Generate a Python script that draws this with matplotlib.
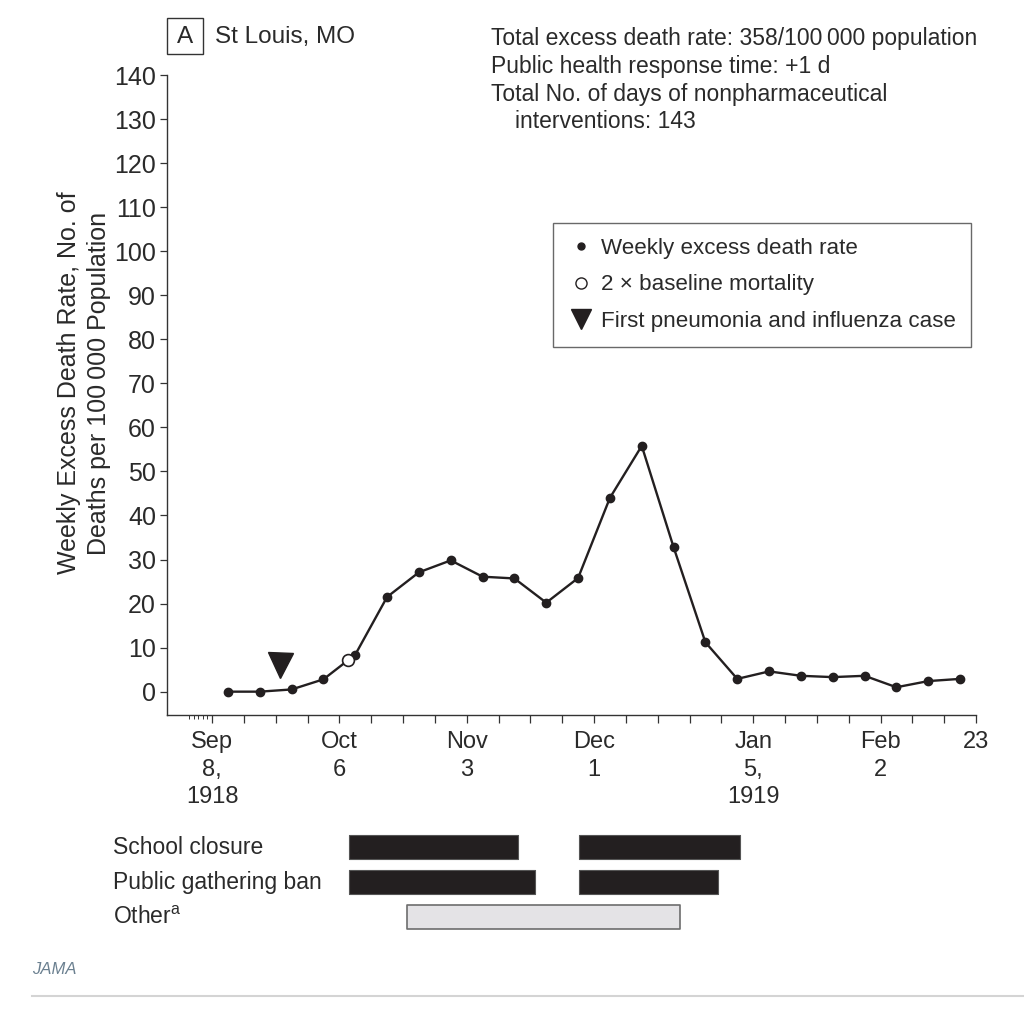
import matplotlib
matplotlib.use('Agg')
import matplotlib.pyplot as plt
from matplotlib.lines import Line2D
from matplotlib.patches import Rectangle
import matplotlib.transforms as mtransforms

plt.rcParams['font.family'] = ['Liberation Sans', 'DejaVu Sans']
plt.rcParams['mathtext.fontset'] = 'custom'
plt.rcParams['mathtext.rm'] = 'Liberation Sans'
plt.rcParams['mathtext.it'] = 'Liberation Sans:italic'

TXT = '#2a2a2a'
INK = '#231f20'

# ---------------- data (x in days since Sep 8, 1918) ----------------
week_days = [3.5, 10.5, 17.5, 24.5, 31.5, 38.5, 45.5, 52.5, 59.5, 66.5, 73.5, 80.5,
             87.5, 94.5, 101.5, 108.5, 115.5, 122.5, 129.5, 136.5, 143.5, 150.5, 157.5, 164.5]
excess_rate = [0.0, 0.0, 0.5, 2.8, 8.4, 21.5, 27.1, 29.8, 26.1, 25.7, 20.2, 25.8,
               44.0, 55.8, 32.8, 11.2, 2.9, 4.6, 3.6, 3.3, 3.6, 1.0, 2.4, 2.9]
baseline_day = [30.0]
baseline_value = [7.2]
first_case_day = [15.0]
first_case_value = [6.0]

week_tick_days = [0, 7, 14, 21, 28, 35, 42, 49, 56, 63, 70, 77, 84, 91, 98, 105,
                  112, 119, 126, 133, 140, 147, 154, 161, 168]
label_days = [0, 28, 56, 84, 119, 147, 168]
label_texts = ['Sep\n8,\n1918', 'Oct\n6', 'Nov\n3', 'Dec\n1', 'Jan\n5,\n1919', 'Feb\n2', '23']
minor_days = [-5, -4, -3, -2, -1]
y_ticks = [0, 10, 20, 30, 40, 50, 60, 70, 80, 90, 100, 110, 120, 130, 140]

intervention_names = ['School closure', 'Public gathering ban', 'Other$^{\\mathrm{a}}$']
school_closure = [(30.1, 67.3), (80.8, 116.1)]
gathering_ban = [(30.1, 71.0), (80.8, 111.2)]
other_npi = [(42.9, 102.9)]

legend_labels = ['Weekly excess death rate', '2 \u00d7 baseline mortality',
                 'First pneumonia and influenza case']
info_lines = ['Total excess death rate: 358/100\u2009000 population',
              'Public health response time: +1 d',
              'Total No. of days of nonpharmaceutical',
              'interventions: 143']

# ---------------- figure ----------------
W, H = 1024, 1009
fig = plt.figure(figsize=(W / 100, H / 100), dpi=100)
fig.patch.set_facecolor('white')


def fx(px):
    return px / W


def fy(py):
    return 1 - py / H


ax = fig.add_axes([fx(167), fy(715), fx(976) - fx(167), fy(75) - fy(715)])
ax.set_xlim(-9.9, 168)
ax.set_ylim(-5.3, 140)
for s in ['top', 'right']:
    ax.spines[s].set_visible(False)
for s in ['left', 'bottom']:
    ax.spines[s].set_color('#333333')
    ax.spines[s].set_linewidth(1.0)

ax.set_xticks(week_tick_days)
ax.set_xticklabels([label_texts[label_days.index(d)] if d in label_days else ''
                    for d in week_tick_days])
ax.set_xticks(minor_days, minor=True)
ax.set_yticks(y_ticks)
ax.tick_params(axis='x', which='major', length=5.5, width=0.9, color='#333333',
               pad=6, labelsize=17, labelcolor=TXT)
ax.tick_params(axis='x', which='minor', length=3, width=0.7, color='#333333')
ax.tick_params(axis='y', length=5, width=0.9, color='#333333', pad=3,
               labelsize=18, labelcolor=TXT)
for lbl in ax.get_xticklabels():
    lbl.set_linespacing(1.33)

ax.plot(week_days, excess_rate, '-o', color=INK, lw=1.7, ms=6, zorder=3, clip_on=False)
ax.plot(baseline_day, baseline_value, 'o', mfc='white', mec=INK, ms=8.5, mew=1.2, zorder=4)
ax.plot(first_case_day, first_case_value, 'v', color=INK, ms=18, zorder=4)

handles = [Line2D([], [], ls='none', marker='o', color=INK, ms=5),
           Line2D([], [], ls='none', marker='o', mfc='white', mec=INK, mew=1.0, ms=8),
           Line2D([], [], ls='none', marker='v', color=INK, ms=15)]
leg = ax.legend(handles, legend_labels, loc='upper left',
                bbox_to_anchor=(fx(553), fy(223)), bbox_transform=fig.transFigure,
                borderaxespad=0, frameon=True, fancybox=False, edgecolor='#444444',
                fontsize=16.1, handlelength=1.1, handletextpad=0.35,
                labelspacing=0.68, borderpad=0.68)
leg.get_frame().set_linewidth(1.0)
for t in leg.get_texts():
    t.set_color(TXT)

# y label
fig.text(fx(84), fy(383), 'Weekly Excess Death Rate, No. of\nDeaths per 100\u2009000 Population',
         rotation=90, ha='center', va='center', multialignment='center',
         fontsize=18, color=TXT, linespacing=1.3)

# panel label
fig.add_artist(Rectangle((fx(167), fy(54)), fx(203) - fx(167), fy(18) - fy(54),
                         transform=fig.transFigure, fill=False, ec='#333333', lw=1.0))
fig.text(fx(185), fy(37), 'A', ha='center', va='center', fontsize=17.5, color=TXT)
fig.text(fx(215), fy(37), 'St Louis, MO', ha='left', va='center', fontsize=17.5, color=TXT)

# info text
info_x = [491, 491, 491, 515]
info_y = [39, 67, 95, 122]
for t, x, y in zip(info_lines, info_x, info_y):
    fig.text(fx(x), fy(y), t, ha='left', va='center', fontsize=16.5, color=TXT)

# intervention bars
ax2 = fig.add_axes([fx(167), fy(934.5), fx(976) - fx(167), fy(829.5) - fy(934.5)])
ax2.set_xlim(ax.get_xlim())
ax2.set_ylim(2.5, -0.5)
ax2.axis('off')
bh = 0.69
ax2.broken_barh([(s, e - s) for s, e in school_closure], (0 - bh / 2, bh),
                facecolors=INK, edgecolors='#555555', linewidth=0.8)
ax2.broken_barh([(s, e - s) for s, e in gathering_ban], (1 - bh / 2, bh),
                facecolors=INK, edgecolors='#555555', linewidth=0.8)
ax2.broken_barh([(s, e - s) for s, e in other_npi], (2 - bh / 2, bh),
                facecolors='#e4e3e6', edgecolors='#6d6d6d', linewidth=1.2)
trans = mtransforms.blended_transform_factory(fig.transFigure, ax2.transData)
for i, name in enumerate(intervention_names):
    ax2.text(fx(113), i, name, transform=trans, ha='left', va='center',
             fontsize=16.5, color=TXT)

# footer
fig.text(fx(32), fy(970), 'JAMA', ha='left', va='center', fontsize=12,
         style='italic', color='#6b8090')
fig.add_artist(Line2D([fx(32), 1.0], [fy(996), fy(996)], transform=fig.transFigure,
                      color='#d4d4d4', lw=1.5))

fig.savefig('out.png', dpi=100, facecolor='white')
